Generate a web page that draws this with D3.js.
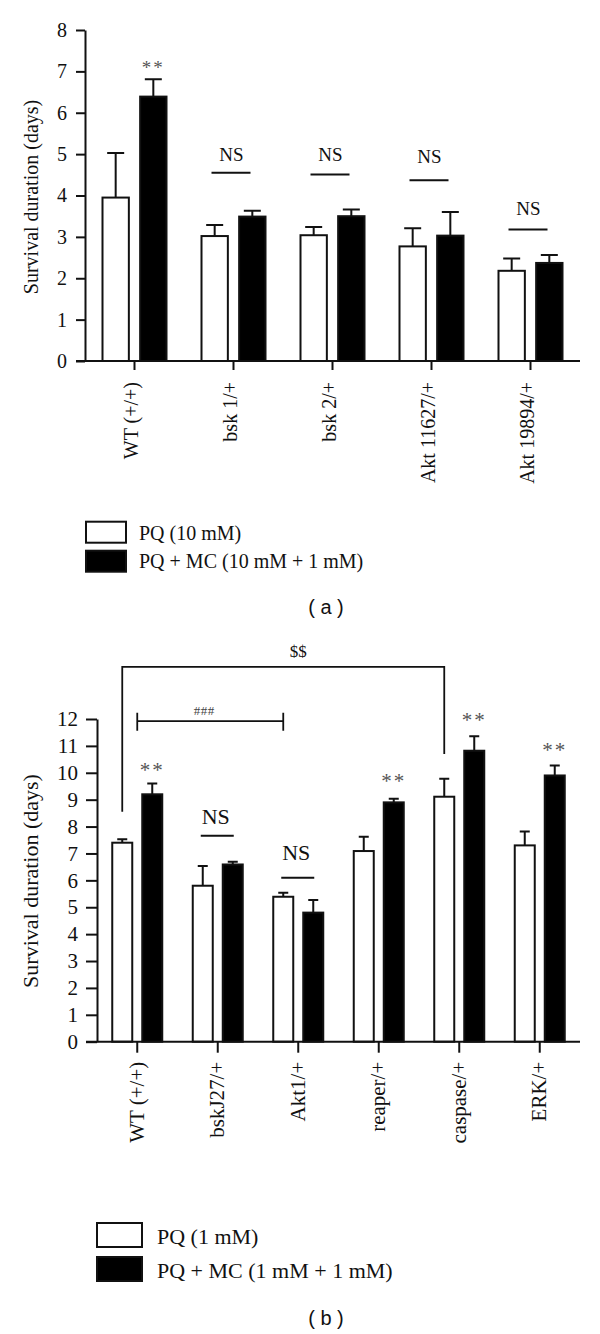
<!DOCTYPE html>
<html><head><meta charset="utf-8">
<script src="https://cdn.jsdelivr.net/npm/d3@7"></script>
<style>body{margin:0;background:#fff}svg{display:block}</style>
</head><body>
<script>
// ---------- Panel (a) data ----------
const catsA = ["WT (+/+)", "bsk 1/+", "bsk 2/+", "Akt 11627/+", "Akt 19894/+"];
const seriesA = ["PQ (10 mM)", "PQ + MC (10 mM + 1 mM)"];
const pqA = [3.95, 3.02, 3.04, 2.77, 2.18];
const pqErrA = [1.08, 0.27, 0.20, 0.44, 0.30];
const mcA = [6.39, 3.49, 3.50, 3.03, 2.37];
const mcErrA = [0.42, 0.14, 0.16, 0.57, 0.19];
const ticksA = [0, 1, 2, 3, 4, 5, 6, 7, 8];
const sigA = ["**", "NS", "NS", "NS", "NS"];
const sigTextA = [6.94, 4.83, 4.83, 4.78, 3.54];
const sigLineA = [null, 4.55, 4.51, 4.37, 3.18];

// ---------- Panel (b) data ----------
const catsB = ["WT (+/+)", "bskJ27/+", "Akt1/+", "reaper/+", "caspase/+", "ERK/+"];
const seriesB = ["PQ (1 mM)", "PQ + MC (1 mM + 1 mM)"];
const pqB = [7.40, 5.80, 5.39, 7.09, 9.11, 7.30];
const pqErrB = [0.13, 0.73, 0.15, 0.53, 0.67, 0.52];
const mcB = [9.20, 6.59, 4.80, 8.90, 10.82, 9.90];
const mcErrB = [0.40, 0.10, 0.47, 0.13, 0.54, 0.37];
const ticksB = [0, 1, 2, 3, 4, 5, 6, 7, 8, 9, 10, 11, 12];
const sigB = ["**", "NS", "NS", "**", "**", "**"];
const sigTextB = [9.83, 8.09, 6.74, 9.42, 11.72, 10.57];
const sigLineB = [null, 7.66, 6.10, null, null, null];
// comparison brackets (panel b)
const bracketDollar = {label: "$$", from: 0, to: 4, leftEnd: 8.55, rightEnd: 10.7, top: 13.94, textAt: 2, textVal: 14.3};
const bracketHash = {label: "###", from: 0, to: 2, level: 11.92, capTop: 12.23, capBot: 11.56, textVal: 12.15};

const SERIF = "'Liberation Serif','Times New Roman',serif";
const INK = "#111";
const svg = d3.select("body").append("svg").attr("width", 600).attr("height", 1334);

function panel(o) {
  const g = svg.append("g");
  const rows = o.cats.map((c, i) => ({cat: c, vals: [
    {s: o.series[0], v: o.pq[i], e: o.pqErr[i], fill: "#fff"},
    {s: o.series[1], v: o.mc[i], e: o.mcErr[i], fill: "#000"}]}));
  const x = d3.scaleBand().domain(o.cats).range([o.x0, o.x1]).padding(0);
  const xi = d3.scaleBand().domain(o.series).range([-o.half, o.half]).paddingInner(o.pin);
  const y = d3.scaleLinear().domain([0, d3.max(o.ticks)]).range([o.yBase, o.yTop]);
  const cx = c => x(c) + x.bandwidth() / 2;

  // bars
  const grp = g.selectAll("g.cat").data(rows).join("g").attr("transform", d => `translate(${cx(d.cat)},0)`);
  grp.selectAll("rect").data(d => d.vals).join("rect")
    .attr("x", d => xi(d.s)).attr("width", xi.bandwidth())
    .attr("y", d => y(d.v)).attr("height", d => y(0) - y(d.v))
    .attr("fill", d => d.fill).attr("stroke", INK).attr("stroke-width", 2);
  // error bars (upper only)
  grp.selectAll("path.err").data(d => d.vals).join("path").attr("class", "err")
    .attr("d", d => {
      const m = xi(d.s) + xi.bandwidth() / 2, h = o.cap / 2;
      return `M${m},${y(d.v)}V${y(d.v + d.e)}M${m - h},${y(d.v + d.e)}H${m + h}`;
    }).attr("fill", "none").attr("stroke", INK).attr("stroke-width", 2);

  // y axis
  const ya = g.append("g").attr("transform", `translate(${o.x0},0)`)
    .call(d3.axisLeft(y).tickValues(o.ticks).tickFormat(d3.format("d")).tickSize(o.tick).tickSizeOuter(0).tickPadding(o.tickPad));
  ya.selectAll("path,line").attr("stroke", INK).attr("stroke-width", 2);
  ya.selectAll("text").attr("font-family", SERIF).attr("font-size", o.tickFs).attr("fill", INK);
  // x axis
  const xa = g.append("g").attr("transform", `translate(0,${o.yBase})`)
    .call(d3.axisBottom(x).tickSize(o.tick).tickSizeOuter(0));
  xa.select(".domain").remove();
  xa.append("line").attr("x1", o.x0 - o.tick).attr("x2", o.x1).attr("y1", 0).attr("y2", 0)
    .attr("stroke", INK).attr("stroke-width", 2);
  xa.selectAll("line").attr("stroke", INK).attr("stroke-width", 2);
  xa.selectAll(".tick text").attr("font-family", SERIF).attr("font-size", o.xFs).attr("fill", INK)
    .attr("transform", "rotate(-90)").attr("text-anchor", "end")
    .attr("x", -o.xLabOff).attr("y", 0).attr("dy", o.xDy);
  // y label
  g.append("text").attr("transform", `translate(${o.ylX},${o.ylY}) rotate(-90)`)
    .attr("text-anchor", "middle").attr("font-family", SERIF).attr("font-size", o.ylFs).attr("fill", INK)
    .text("Survival duration (days)");

  // significance marks
  o.cats.forEach((c, i) => {
    if (o.sig[i] === "**") {
      g.append("text").attr("x", cx(c) + xi(o.series[1]) + xi.bandwidth() / 2).attr("y", y(o.sigText[i]))
        .attr("text-anchor", "middle").attr("font-family", SERIF).attr("font-size", o.astFs)
        .attr("letter-spacing", 2).attr("fill", "#555").text("**");
    } else {
      g.append("text").attr("x", cx(c) - 2).attr("y", y(o.sigText[i]))
        .attr("text-anchor", "middle").attr("font-family", SERIF).attr("font-size", o.nsFs)
        .attr("fill", INK).text(o.sig[i]);
      g.append("line").attr("x1", cx(c) - o.nsL).attr("x2", cx(c) + o.nsR)
        .attr("y1", y(o.sigLine[i])).attr("y2", y(o.sigLine[i]))
        .attr("stroke", INK).attr("stroke-width", 2);
    }
  });

  // legend
  o.series.forEach((s, i) => {
    g.append("rect").attr("x", o.lgX).attr("y", o.lgY[i]).attr("width", o.lgW).attr("height", o.lgH)
      .attr("fill", i ? "#000" : "#fff").attr("stroke", INK).attr("stroke-width", 2);
    g.append("text").attr("x", o.lgTx).attr("y", o.lgBase[i]).attr("font-family", SERIF)
      .attr("font-size", o.lgFs).attr("fill", INK).text(s);
  });
  g.append("text").attr("x", 326).attr("y", o.capY).attr("text-anchor", "middle")
    .attr("font-family", "'Liberation Sans',Arial,sans-serif").attr("font-size", 20).attr("fill", INK)
    .attr("xml:space", "preserve").text(o.caption);

  return {g, x, xi, y, cx};
}

panel({cats: catsA, series: seriesA, pq: pqA, pqErr: pqErrA, mc: mcA, mcErr: mcErrA, ticks: ticksA,
  sig: sigA, sigText: sigTextA, sigLine: sigLineA,
  x0: 85, x1: 580, yBase: 361, yTop: 30, half: 32, pin: 0.3, cap: 17,
  tick: 9, tickPad: 9, tickFs: 20, xFs: 20, xLabOff: 21, xDy: "0.15em",
  ylX: 38, ylY: 197, ylFs: 20, astFs: 19, nsFs: 19, nsL: 22, nsR: 17,
  lgX: 86, lgY: [521.7, 550.7], lgW: 40, lgH: 21, lgTx: 139, lgBase: [540, 568], lgFs: 20,
  capY: 614, caption: "( a )"});

const pb = panel({cats: catsB, series: seriesB, pq: pqB, pqErr: pqErrB, mc: mcB, mcErr: mcErrB, ticks: ticksB,
  sig: sigB, sigText: sigTextB, sigLine: sigLineB,
  x0: 97, x1: 580, yBase: 1041.7, yTop: 719, half: 25, pin: 1 / 3, cap: 10,
  tick: 11, tickPad: 8, tickFs: 21, xFs: 21, xLabOff: 20, xDy: "0.3em",
  ylX: 38, ylY: 881, ylFs: 22, astFs: 21, nsFs: 22, nsL: 17, nsR: 16,
  lgX: 97, lgY: [1223, 1257], lgW: 45, lgH: 24, lgTx: 157, lgBase: [1244, 1278], lgFs: 22,
  capY: 1325, caption: "( b )"});

// brackets in panel b
(function () {
  const {g, y, xi, cx} = pb;
  const pqC = c => cx(c) + xi(seriesB[0]) + xi.bandwidth() / 2;
  const bd = bracketDollar;
  const xl = pqC(catsB[bd.from]), xr = pqC(catsB[bd.to]);
  g.append("path").attr("d", `M${xl},${y(bd.leftEnd)}V${y(bd.top)}H${xr}V${y(bd.rightEnd)}`)
    .attr("fill", "none").attr("stroke", INK).attr("stroke-width", 1.8);
  g.append("text").attr("x", cx(catsB[bd.textAt])).attr("y", y(bd.textVal)).attr("text-anchor", "middle")
    .attr("font-family", SERIF).attr("font-size", 17).attr("fill", INK).text(bd.label);
  const bh = bracketHash;
  const hl = cx(catsB[bh.from]), hr = pqC(catsB[bh.to]);
  g.append("path").attr("d", `M${hl},${y(bh.capTop)}V${y(bh.capBot)}M${hl},${y(bh.level)}H${hr}M${hr},${y(bh.capTop)}V${y(bh.capBot)}`)
    .attr("fill", "none").attr("stroke", INK).attr("stroke-width", 1.8);
  g.append("text").attr("x", (hl + hr) / 2 - 6).attr("y", y(bh.textVal)).attr("text-anchor", "middle")
    .attr("font-family", SERIF).attr("font-size", 13).attr("letter-spacing", 0.5).attr("fill", "#444").text(bh.label);
})();
</script>
</body></html>
